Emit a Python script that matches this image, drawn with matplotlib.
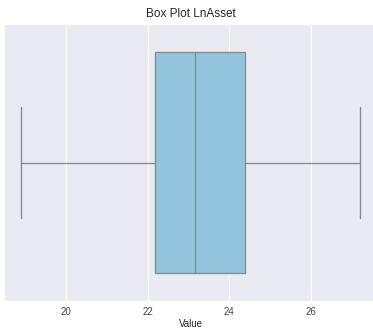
import matplotlib
matplotlib.use("Agg")
import matplotlib.pyplot as plt
import seaborn as sns

# box plot summary of LnAsset
label = "LnAsset"
whisker_low = 18.90
q1 = 22.17
median = 23.15
q3 = 24.39
whisker_high = 27.20

sns.set_style("darkgrid")
plt.rcParams['font.family'] = ['Liberation Sans', 'DejaVu Sans']

fig = plt.figure(figsize=(3.73, 3.29), dpi=100)
ax = fig.add_axes([0.011, 0.085, 1.0, 0.842])

stats = [{
    "label": label,
    "whislo": whisker_low,
    "q1": q1,
    "med": median,
    "q3": q3,
    "whishi": whisker_high,
    "fliers": [],
}]

line_col = "#8c8c8c"
ax.bxp(stats, positions=[0], widths=0.8, vert=False, patch_artist=True,
       showfliers=False,
       boxprops=dict(facecolor="#93c6de", edgecolor=line_col, linewidth=1.0),
       medianprops=dict(color=line_col, linewidth=1.0),
       whiskerprops=dict(color=line_col, linewidth=1.0),
       capprops=dict(color=line_col, linewidth=1.0),
       capwidths=0.4)

span = whisker_high - whisker_low
ax.set_xlim(whisker_low - 0.05 * span, whisker_high + 0.05 * span)
ax.set_ylim(0.5, -0.5)
ax.set_yticks([])
ax.set_xticks([20, 22, 24, 26])
ax.tick_params(axis="x", labelsize=7, pad=1, colors="#444444")
ax.set_xlabel("Value", fontsize=7, labelpad=1)
ax.set_title("Box Plot LnAsset", fontsize=8.5, pad=5)

fig.savefig("out.png", dpi=100)
